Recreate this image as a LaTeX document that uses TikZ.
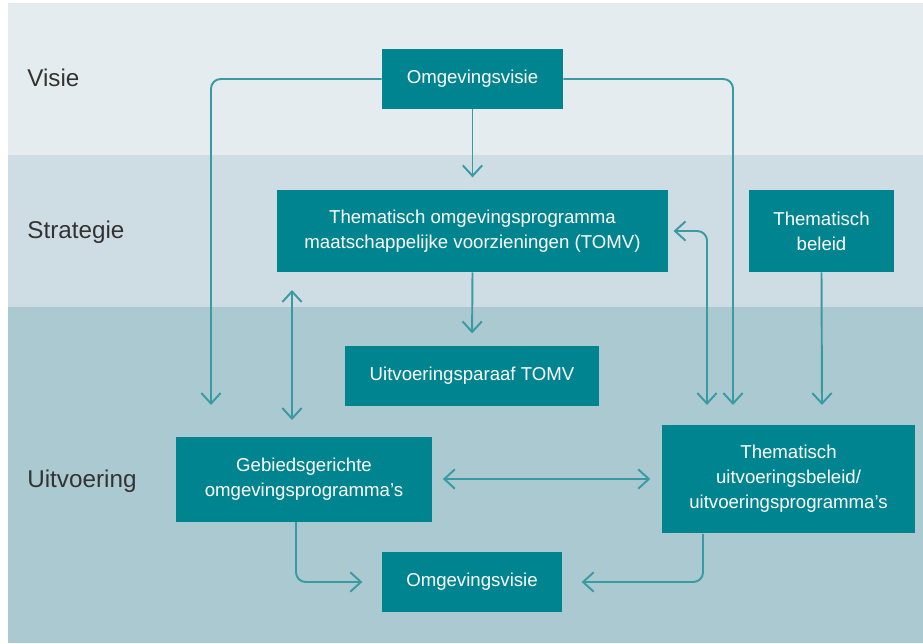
\documentclass[tikz,border=0pt]{standalone}
\usepackage{fontspec}
\setmainfont{Liberation Sans}
\usetikzlibrary{arrows.meta}
\definecolor{bandvisie}{HTML}{E5ECEF}
\definecolor{bandstrat}{HTML}{CEDDE3}
\definecolor{banduitv}{HTML}{ABC9D0}
\definecolor{blokteal}{HTML}{00848F}
\definecolor{lijnteal}{HTML}{3A9AA4}

\begin{document}
\begin{tikzpicture}[x=0.02cm,y=-0.02cm]
\tikzset{punt/.tip={Straight Barb[length=6pt,width=11pt]},
  blok/.style={fill=blokteal,text=white,inner sep=0pt,align=center,
    font=\fontsize{10.6}{14.2}\selectfont},
  pijl/.style={draw=lijnteal,line width=1.1pt,-punt,rounded corners=5.5pt},
  dubbel/.style={pijl,punt-punt},
  laag/.style={anchor=west,inner sep=0pt,text=black!80,font=\fontsize{13.8}{16}\selectfont}}
\useasboundingbox (0,0) rectangle (923,643);
\fill[white] (0,0) rectangle (923,643);
\fill[bandvisie] (8,3) rectangle (923,155);
\fill[bandstrat] (8,155) rectangle (923,307);
\fill[banduitv] (8,307) rectangle (923,643);
\node[laag] (visie) at (27,78) {Visie};
\node[laag] (strat) at (27,232) {Strategie};
\node[laag] (uitv) at (27,481) {Uitvoering};
\node[blok,minimum width=3.62cm,minimum height=1.2cm] (ov1) at (472.5,79) {Omgevingsvisie};
\node[blok,minimum width=7.82cm,minimum height=1.64cm] (tomv) at (472.5,231)
  {Thematisch omgevingsprogramma\\maatschappelijke voorzieningen (TOMV)};
\node[blok,minimum width=2.9cm,minimum height=1.64cm] (tb) at (821.5,231) {Thematisch\\beleid};
\node[blok,minimum width=5.08cm,minimum height=1.2cm] (up) at (472,376) {Uitvoeringsparaaf TOMV};
\node[blok,minimum width=5.12cm,minimum height=1.7cm] (geb) at (304,479)
  {Gebiedsgerichte\\omgevingsprogramma's};
\node[blok,minimum width=5.06cm,minimum height=2.18cm] (tub) at (788.5,479)
  {Thematisch\\uitvoeringsbeleid/\\uitvoeringsprogramma's};
\node[blok,minimum width=3.6cm,minimum height=1.2cm] (ov2) at (472,582) {Omgevingsvisie};
\coordinate (gebL) at (211,405);
\coordinate (tomvV) at (292,290);
\coordinate (gebV) at (292,420);
\coordinate (tubL) at (707,405);
\coordinate (tubM) at (733,405);
\coordinate (tubR) at (822,405);
\draw[pijl] (ov1.west) -| (gebL);
\draw[pijl] (ov1.east) -| (tubM);
\draw[pijl,shorten >=7pt] (ov1.south) -- (tomv.north);
\draw[pijl,shorten >=7pt] (tomv.south) -- (up.north);
\draw[dubbel] (tomvV) -- (gebV);
\draw[dubbel,shorten >=3pt] (tubL) |- (tomv.east);
\draw[pijl] (tb.south) -- (tubR);
\draw[dubbel,shorten <=6pt,shorten >=6.5pt] (geb.east) -- (tub.west);
\draw[pijl,shorten >=11pt] ([xshift=-0.16cm]geb.south) |- (ov2.west);
\draw[pijl,shorten >=11pt] ([xshift=-1.71cm]tub.south) |- (ov2.east);
\end{tikzpicture}
\end{document}
